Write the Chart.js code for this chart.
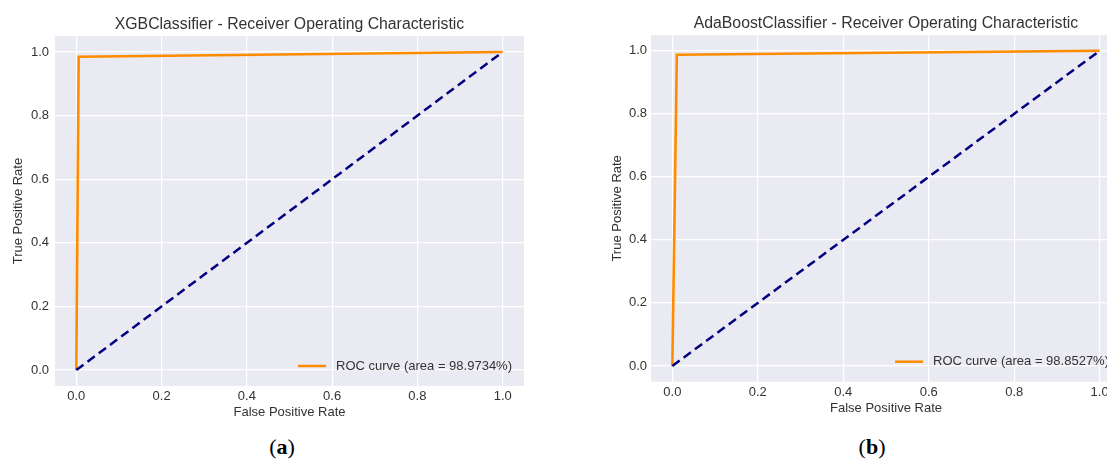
<!DOCTYPE html>
<html>
<head>
<meta charset="utf-8">
<script src="https://cdn.jsdelivr.net/npm/chart.js@4.4.0/dist/chart.umd.min.js"></script>
<style>
  body { margin: 0; width: 1107px; height: 459px; overflow: hidden; background: #fff; position: relative; }
  canvas { position: absolute; top: 0; }
  #rocA { left: 0; }
  #rocB { left: 600px; }
  .cap { position: absolute; top: 434px; font: 22px "Liberation Serif", "DejaVu Serif", serif; color: #000; transform: translateX(-50%); line-height: 26px; }
  .cap b { font-weight: bold; }
</style>
</head>
<body>
<canvas id="rocA" width="540" height="425"></canvas>
<canvas id="rocB" width="540" height="425"></canvas>
<div class="cap" style="left:282px">(<b>a</b>)</div>
<div class="cap" style="left:872px">(<b>b</b>)</div>
<script>
// tick positions shared by both axes
const tickValues = [0, 0.2, 0.4, 0.6, 0.8, 1.0];

// chance diagonal
const chanceFpr = [0, 1];
const chanceTpr = [0, 1];

// XGBClassifier roc
const xgbFpr = [0, 0.0055, 1];
const xgbTpr = [0, 0.985, 1];
const xgbAuc = 98.9734;

// AdaBoostClassifier roc
const adaFpr = [0, 0.0105, 1];
const adaTpr = [0, 0.9875, 1];
const adaAuc = 98.8527;

const FONT = '"Liberation Sans", Arial, sans-serif';
const TEXT = '#333';

const toPoints = (xs, ys) => xs.map((x, i) => ({ x: x, y: ys[i] }));

// seaborn-like grey background behind the plot
const plotBg = {
    id: 'plotBg',
    beforeDraw(chart) {
        const { ctx, chartArea: a } = chart;
        ctx.save();
        ctx.fillStyle = '#EAEAF2';
        ctx.fillRect(a.left, a.top, a.right - a.left, a.bottom - a.top);
        ctx.restore();
    }
};

// legend drawn inside the lower right corner, no frame
const rocLegend = {
    id: 'rocLegend',
    afterDatasetsDraw(chart, args, opts) {
        const ds = chart.data.datasets[0];
        const { ctx, chartArea: a } = chart;
        ctx.save();
        ctx.font = '13px ' + FONT;
        const tw = ctx.measureText(ds.label).width;
        const tx = a.right - opts.right - tw;
        const y = a.bottom - opts.bottom;
        ctx.strokeStyle = ds.borderColor;
        ctx.lineWidth = 2.5;
        ctx.beginPath();
        ctx.moveTo(tx - 10 - 28, y);
        ctx.lineTo(tx - 10, y);
        ctx.stroke();
        ctx.fillStyle = TEXT;
        ctx.textBaseline = 'middle';
        ctx.fillText(ds.label, tx, y);
        ctx.restore();
    }
};

function makeRoc(id, title, fpr, tpr, auc, lay) {
    const axisBase = (label, pad) => ({
        type: 'linear',
        min: -0.05,
        max: 1.05,
        afterBuildTicks: s => { s.ticks = tickValues.map(v => ({ value: v })); },
        grid: { color: '#ffffff', lineWidth: 1.2, drawTicks: false },
        border: { display: false },
        ticks: {
            includeBounds: false,
            color: TEXT,
            font: { family: FONT, size: 13 },
            callback: v => Number(v).toFixed(1)
        },
        title: { display: true, text: label, color: TEXT, font: { family: FONT, size: 13 }, padding: pad }
    });

    const x = axisBase('False Positive Rate', { top: 0, bottom: lay.xTitlePad });
    x.ticks.padding = lay.xTickPad;
    x.afterFit = s => { s.height = lay.xHeight; };

    const y = axisBase('True Positive Rate', { top: lay.yTitlePad, bottom: 0 });
    y.ticks.padding = lay.yTickPad;
    y.afterFit = s => { s.width = lay.yWidth; };

    return new Chart(document.getElementById(id), {
        type: 'scatter',
        data: {
            datasets: [{
                label: `ROC curve (area = ${auc.toFixed(4)}%)`,
                data: toPoints(fpr, tpr),
                showLine: true,
                borderColor: '#FF8C00',
                borderWidth: 2.6,
                pointRadius: 0,
                order: 1
            }, {
                label: 'chance',
                data: toPoints(chanceFpr, chanceTpr),
                showLine: true,
                borderColor: '#000080',
                borderWidth: 2.5,
                borderDash: [9, 5],
                pointRadius: 0,
                order: 0
            }]
        },
        options: {
            responsive: false,
            animation: false,
            layout: { padding: { left: 0, right: lay.padRight, top: 0, bottom: 0 } },
            plugins: {
                legend: { display: false },
                tooltip: { enabled: false },
                title: {
                    display: true,
                    text: title,
                    color: TEXT,
                    fullSize: false,
                    font: { family: FONT, size: 15.8, weight: 'normal' },
                    padding: { top: lay.titleTop, bottom: lay.titleBottom }
                },
                rocLegend: { right: 12, bottom: 20 }
            },
            scales: { x: x, y: y }
        },
        plugins: [plotBg, rocLegend]
    });
}

makeRoc('rocA', 'XGBClassifier - Receiver Operating Characteristic', xgbFpr, xgbTpr, xgbAuc, {
    padRight: 16, titleTop: 15, titleBottom: 2.1,
    yWidth: 55, yTickPad: 6, yTitlePad: 10.5,
    xHeight: 39, xTickPad: 3, xTitlePad: 4.5
});

makeRoc('rocB', 'AdaBoostClassifier - Receiver Operating Characteristic', adaFpr, adaTpr, adaAuc, {
    padRight: 19, titleTop: 14, titleBottom: 2.1,
    yWidth: 51, yTickPad: 4, yTitlePad: 9.5,
    xHeight: 43.3, xTickPad: 3, xTitlePad: 8.5
});
</script>
</body>
</html>
